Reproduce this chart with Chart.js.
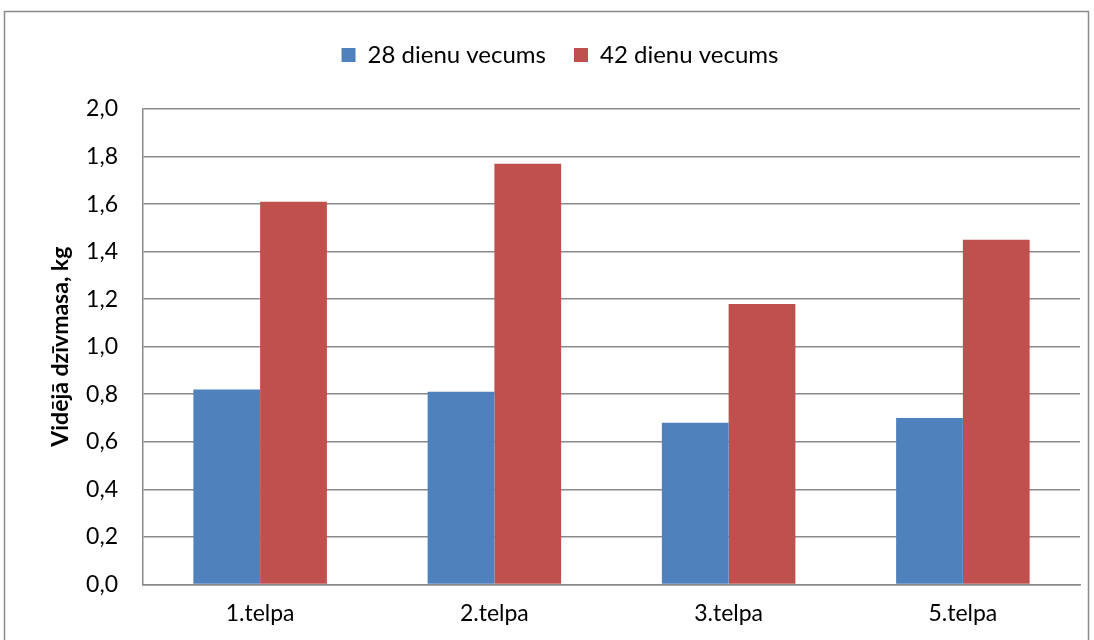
<!DOCTYPE html>
<html>
<head>
<meta charset="utf-8">
<script src="https://cdn.jsdelivr.net/npm/chart.js"></script>
<style>
  html, body { margin: 0; padding: 0; background: #fff; }
  #wrap { position: relative; width: 1094px; height: 640px; }
</style>
</head>
<body>
<div id="wrap"><canvas id="chart" width="1094" height="640"></canvas></div>
<script>
// Data
const categories = ['1.telpa', '2.telpa', '3.telpa', '5.telpa'];
const age28 = [0.82, 0.81, 0.68, 0.70];
const age42 = [1.61, 1.77, 1.18, 1.45];
const seriesNames = ['28 dienu vecums', '42 dienu vecums'];

const FONT = 'Lato, "Open Sans", sans-serif';
const FS = 23;

// gray frame round the whole chart
const framePlugin = {
    id: 'frame',
    beforeDraw(chart) {
        const ctx = chart.ctx;
        ctx.save();
        ctx.strokeStyle = '#8a8a8a';
        ctx.lineWidth = 1.5;
        ctx.strokeRect(4.5, 11.5, 1084, 640);
        ctx.restore();
    }
};

// extra room under the legend, and nudge it a bit right
const legendGap = {
    id: 'legendGap',
    beforeInit(chart) {
        const legend = chart.legend;
        const fit = legend.fit;
        legend.fit = function () {
            fit.bind(legend)();
            this.height += 32;
        };
        const draw = legend.draw;
        legend.draw = function () {
            const ctx = chart.ctx;
            ctx.save();
            ctx.translate(10, 0);
            draw.bind(legend)();
            ctx.restore();
        };
    }
};

new Chart(document.getElementById('chart').getContext('2d'), {
    type: 'bar',
    data: {
        labels: categories,
        datasets: [
            { label: seriesNames[0], data: age28, backgroundColor: '#4f81bd' },
            { label: seriesNames[1], data: age42, backgroundColor: '#c0504d' }
        ]
    },
    options: {
        responsive: false,
        animation: false,
        layout: { padding: { left: 20, right: 14, top: 15, bottom: 6 } },
        datasets: {
            bar: { categoryPercentage: 0.57, barPercentage: 1.0 }
        },
        plugins: {
            legend: {
                position: 'top',
                labels: {
                    font: { family: FONT, size: 24 },
                    color: '#000',
                    boxWidth: 14,
                    boxHeight: 14,
                    padding: 28
                }
            },
            tooltip: { enabled: false }
        },
        scales: {
            x: {
                grid: { display: false },
                border: { display: true, color: '#8a8a8a', width: 1.5 },
                ticks: { font: { family: FONT, size: FS }, color: '#000', padding: 7 }
            },
            y: {
                min: 0,
                max: 2,
                afterFit(scale) { scale.width = 123; },
                grid: { color: '#8a8a8a', lineWidth: 1.5, drawTicks: false },
                border: { display: true, color: '#8a8a8a', width: 1.5 },
                ticks: {
                    stepSize: 0.2,
                    font: { family: FONT, size: FS },
                    color: '#000',
                    padding: 25,
                    callback: v => v.toFixed(1).replace('.', ',')
                },
                title: {
                    display: true,
                    text: 'Vidējā dzīvmasa, kg',
                    font: { family: FONT, size: FS, weight: 'bold' },
                    color: '#000',
                    padding: { top: 27, bottom: 0 }
                }
            }
        }
    },
    plugins: [framePlugin, legendGap]
});
</script>
</body>
</html>
